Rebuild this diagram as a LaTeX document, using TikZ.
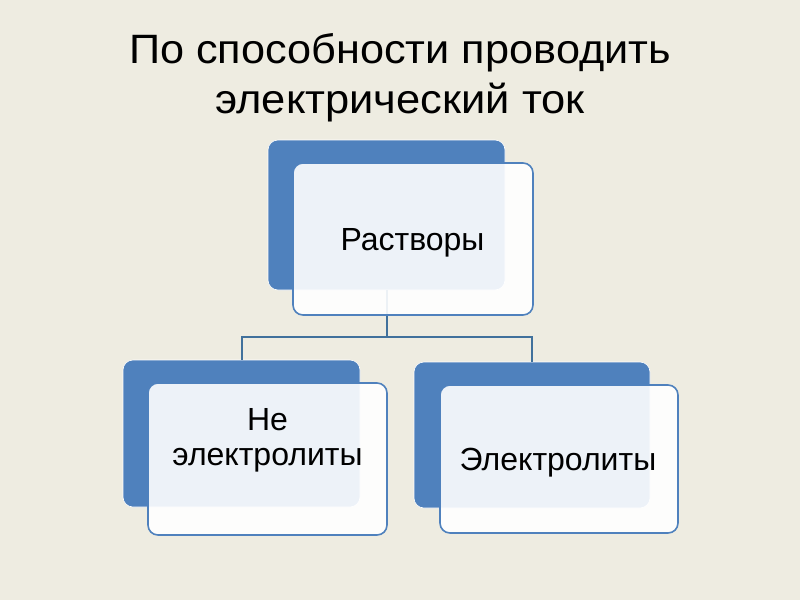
\documentclass[tikz,border=0pt]{standalone}
\usepackage{fontspec}
\setmainfont{Liberation Sans}
\definecolor{bg}{HTML}{EEECE1}
\definecolor{accent}{HTML}{4F81BD}
\definecolor{linec}{HTML}{41719C}
\begin{document}
\begin{tikzpicture}[x=1pt,y=-1pt,
  bluebox/.style={draw=white,line width=0.6pt,fill=accent,rounded corners=10pt,inner sep=0pt},
  whitebox/.style={draw=accent,line width=1.6pt,fill=white,fill opacity=0.9,rounded corners=10pt,inner sep=0pt},
  conn/.style={draw=linec,line width=2pt},
  title/.style={font=\fontsize{41}{48}\selectfont,anchor=base,inner sep=0pt},
  label/.style={font=\fontsize{32}{38}\selectfont,anchor=base,inner sep=0pt}]
\fill[bg] (0,0) rectangle (800,600);
\useasboundingbox (0,0) rectangle (800,600);
\node[title] (t1) at (400,63) {\scalebox{1.055}[1]{По способности проводить}};
\node[title] (t2) at (400,113) {\scalebox{1.06}[1]{электрический ток}};
% blue back boxes
\node[bluebox,minimum width=237pt,minimum height=150pt] (tb) at (386.5,215) {};
\node[bluebox,minimum width=237pt,minimum height=147pt] (lb) at (241.5,433.5) {};
\node[bluebox,minimum width=236pt,minimum height=146pt] (rb) at (532,435) {};
% connectors
\coordinate (bar) at (0,337);
\draw[conn] (tb.south) -- (tb.south |- bar);
\draw[conn] (lb.north) |- (bar -| rb.north) -- (rb.north);
% front boxes
\node[whitebox,minimum width=240pt,minimum height=152pt] (tw) at (413,239) {};
\node[whitebox,minimum width=239pt,minimum height=152pt] (lw) at (267.5,459) {};
\node[whitebox,minimum width=238pt,minimum height=148pt] (rw) at (559,459) {};
% texts
\node[label] (tt) at (412.5,250) {Растворы};
\node[label] (lt1) at (267.5,430) {Не};
\node[label] (lt2) at (267.5,465) {электролиты};
\node[label] (rt) at (558,470) {Электролиты};
\end{tikzpicture}
\end{document}
